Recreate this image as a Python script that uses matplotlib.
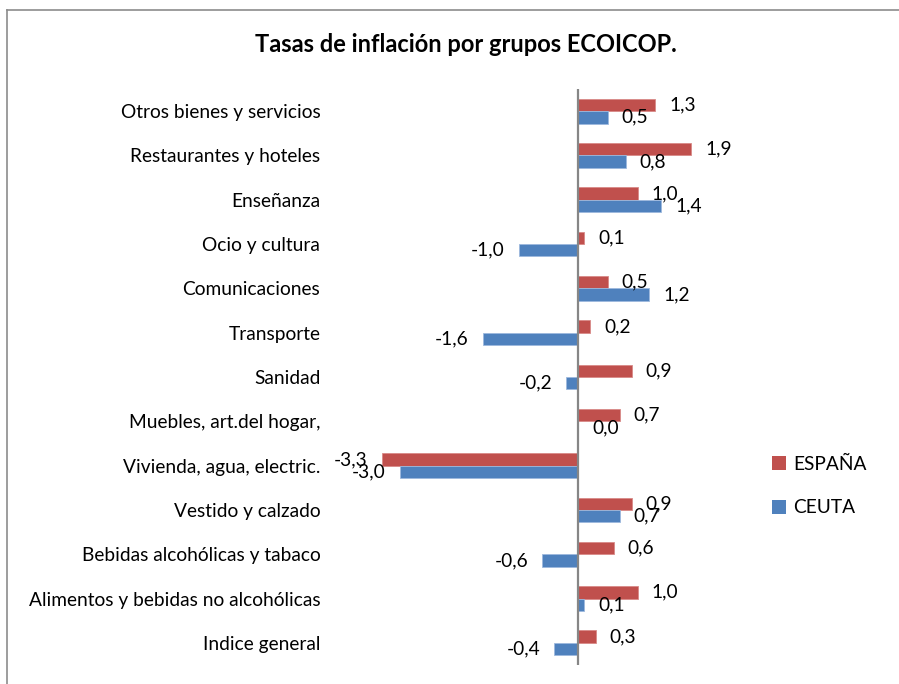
import numpy as np
import matplotlib.pyplot as plt
from matplotlib.patches import Patch
from matplotlib.lines import Line2D

plt.rcParams["font.family"] = ["Lato", "DejaVu Sans"]

# ── DATA (bottom → top) ───────────────────────────────────────
categories = [
    "Indice general",
    "Alimentos y bebidas no alcohólicas",
    "Bebidas alcohólicas y tabaco",
    "Vestido y calzado",
    "Vivienda, agua, electric.",
    "Muebles, art.del hogar,",
    "Sanidad",
    "Transporte",
    "Comunicaciones",
    "Ocio y cultura",
    "Enseñanza",
    "Restaurantes y hoteles",
    "Otros bienes y servicios",
]
espana = [0.3, 1.0, 0.6, 0.9, -3.3, 0.7, 0.9, 0.2, 0.5, 0.1, 1.0, 1.9, 1.3]
ceuta = [-0.4, 0.1, -0.6, 0.7, -3.0, 0.0, -0.2, -1.6, 1.2, -1.0, 1.4, 0.8, 0.5]

RED = "#C0504D"
BLUE = "#4F81BD"
W, H = 899, 684
FS = 13.8

fig = plt.figure(figsize=(W / 100, H / 100), dpi=100, facecolor="white")

# axes placed so that zero sits at x=578px, rows span y=89..665px
ax_left, ax_right = 330, 760
ax_top, ax_bot = 89, 665
ax = fig.add_axes([ax_left / W, 1 - ax_bot / H,
                   (ax_right - ax_left) / W, (ax_bot - ax_top) / H])
px_per_unit = 59.5
ax.set_xlim(-(578 - ax_left) / px_per_unit, (ax_right - 578) / px_per_unit)
ax.set_ylim(-0.5, len(categories) - 0.5)

y = np.arange(len(categories))
bh = 0.28
ax.barh(y + bh / 2, espana, height=bh, color=RED, edgecolor="#D88A88", linewidth=0.6)
ax.barh(y - bh / 2, ceuta, height=bh, color=BLUE, edgecolor="#9DB9DD", linewidth=0.6)

ax.axvline(0, color="#868686", lw=1.6, zorder=3)

for spine in ax.spines.values():
    spine.set_visible(False)
ax.set_xticks([])
ax.set_yticks(y)
ax.set_yticklabels(categories, fontsize=FS)
ax.tick_params(axis="y", length=0, pad=7)

# data labels: comma decimal, just outside the bar end
off = 14 / px_per_unit
for yy, v in zip(y, espana):
    ax.text(v + off if v >= 0 else v - off, yy + bh / 2, f"{v:.1f}".replace(".", ","),
            ha="left" if v >= 0 else "right", va="center", fontsize=FS)
for yy, v in zip(y, ceuta):
    ax.text(v + off if v >= 0 else v - off, yy - bh / 2, f"{v:.1f}".replace(".", ","),
            ha="left" if v >= 0 else "right", va="center", fontsize=FS)

fig.text(466 / W, 1 - 45 / H, "Tasas de inflación por grupos ECOICOP.",
         ha="center", va="center", fontsize=17, fontweight="bold")

handles = [Patch(facecolor=RED), Patch(facecolor=BLUE)]
fig.legend(handles, ["ESPAÑA", "CEUTA"], loc="center left",
           bbox_to_anchor=(772 / W, 1 - 486 / H), frameon=False, fontsize=FS,
           handlelength=0.75, handleheight=0.75, handletextpad=0.35,
           labelspacing=1.4, borderaxespad=0, borderpad=0)

# outer chart frame (only left and top edges fall inside the image)
fig.add_artist(Line2D([7 / W, 7 / W], [0, 1 - 10 / H], transform=fig.transFigure,
                      color="#8C8C8C", lw=1.2))
fig.add_artist(Line2D([7 / W, 1], [1 - 10 / H, 1 - 10 / H], transform=fig.transFigure,
                      color="#8C8C8C", lw=1.2))

fig.savefig("out.png", dpi=100, facecolor="white")
